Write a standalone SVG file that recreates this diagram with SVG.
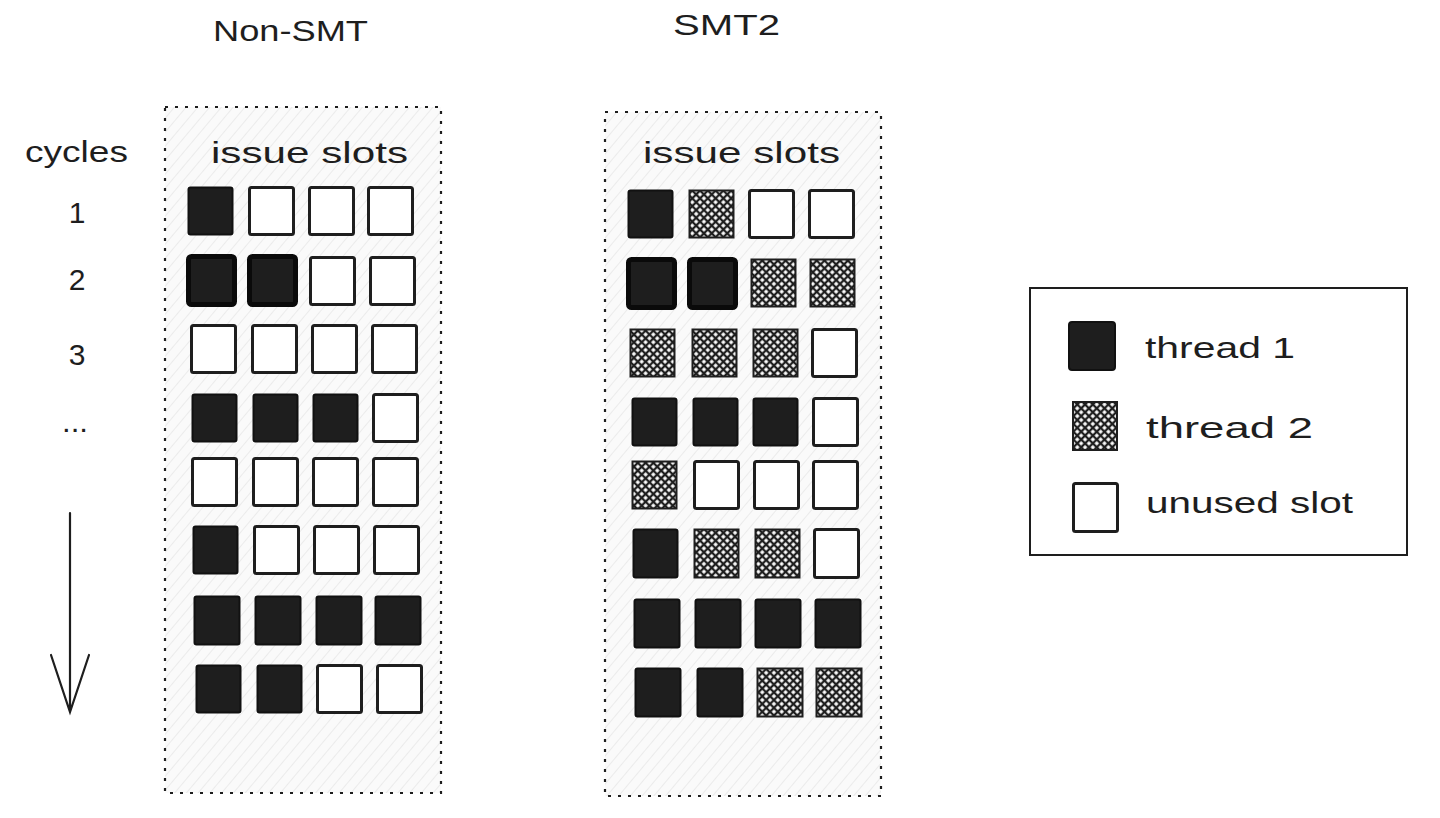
<svg xmlns="http://www.w3.org/2000/svg" width="1440" height="818" viewBox="0 0 1440 818">
<defs>
<pattern id="bg" width="9" height="9" patternUnits="userSpaceOnUse" patternTransform="rotate(-50)">
<rect width="9" height="9" fill="#fafafa"/>
<path d="M0 4.5H9" stroke="#ebebeb" stroke-width="1"/>
</pattern>
<pattern id="xh" width="5.5" height="5.5" patternUnits="userSpaceOnUse" patternTransform="rotate(45)">
<rect width="5.5" height="5.5" fill="#fff"/>
<path d="M0 2.75H5.5M2.75 0V5.5" stroke="#1e1e1e" stroke-width="2.3"/>
</pattern>
</defs>
<style>
text{font-family:"Liberation Sans","DejaVu Sans",sans-serif;fill:#1e1e1e;font-size:30px}
.num{font-size:30px;text-anchor:middle}
.frame{fill:url(#bg);stroke:#1e1e1e;stroke-width:2.2;stroke-dasharray:3 7}
.b{fill:#1e1e1e;stroke:#111;stroke-width:2}
.bt{fill:#1e1e1e;stroke:#0a0a0a;stroke-width:5}
.w{fill:#fff;stroke:#1e1e1e;stroke-width:3}
.h{fill:url(#xh);stroke:#1e1e1e;stroke-width:2}
.leg{fill:#fff;stroke:#1e1e1e;stroke-width:2}
.arr{fill:none;stroke:#1e1e1e;stroke-width:2.2;stroke-linecap:round}
</style>
<rect width="1440" height="818" fill="#fff"/>

<g id="titles">
<text x="213" y="41" textLength="155" lengthAdjust="spacingAndGlyphs">Non-SMT</text>
<text x="673" y="35" textLength="107" lengthAdjust="spacingAndGlyphs">SMT2</text>
</g>

<g id="cycles-axis">
<text x="25" y="162" textLength="103" lengthAdjust="spacingAndGlyphs">cycles</text>
<text class="num" x="77" y="223">1</text>
<text class="num" x="77" y="290">2</text>
<text class="num" x="77" y="365">3</text>
<text x="62" y="432" textLength="26" lengthAdjust="spacingAndGlyphs">...</text>
</g>

<g id="connectors">
<path class="arr" d="M70 513V712M51 655L70 712L89 655"/>
</g>

<g id="non-smt">
<rect class="frame" x="165" y="107" width="276" height="686"/>
<text x="211" y="163" textLength="197" lengthAdjust="spacingAndGlyphs">issue slots</text>
<g id="non-smt-row1">
<rect class="b" x="188.5" y="187.5" width="44" height="47" rx="2"/>
<rect class="w" x="249.5" y="187.5" width="44" height="47" rx="2"/>
<rect class="w" x="309.5" y="187.5" width="44" height="47" rx="2"/>
<rect class="w" x="368.5" y="187.5" width="44" height="47" rx="2"/>
</g>
<g id="non-smt-row2">
<rect class="bt" x="188.5" y="256.5" width="46" height="48" rx="3"/>
<rect class="bt" x="249.5" y="256.5" width="46" height="48" rx="3"/>
<rect class="w" x="310.5" y="257.5" width="44" height="47" rx="2"/>
<rect class="w" x="370.5" y="257.5" width="44" height="47" rx="2"/>
</g>
<g id="non-smt-row3">
<rect class="w" x="191.5" y="325.5" width="44" height="47" rx="2"/>
<rect class="w" x="252.5" y="325.5" width="44" height="47" rx="2"/>
<rect class="w" x="312.5" y="325.5" width="44" height="47" rx="2"/>
<rect class="w" x="372.5" y="325.5" width="44" height="47" rx="2"/>
</g>
<g id="non-smt-row4">
<rect class="b" x="192.5" y="394.5" width="44" height="47" rx="2"/>
<rect class="b" x="253.5" y="394.5" width="44" height="47" rx="2"/>
<rect class="b" x="313.5" y="394.5" width="44" height="47" rx="2"/>
<rect class="w" x="373.5" y="394.5" width="44" height="47" rx="2"/>
</g>
<g id="non-smt-row5">
<rect class="w" x="192.5" y="458.5" width="44" height="47" rx="2"/>
<rect class="w" x="253.5" y="458.5" width="44" height="47" rx="2"/>
<rect class="w" x="313.5" y="458.5" width="44" height="47" rx="2"/>
<rect class="w" x="373.5" y="458.5" width="44" height="47" rx="2"/>
</g>
<g id="non-smt-row6">
<rect class="b" x="193.5" y="526.5" width="44" height="47" rx="2"/>
<rect class="w" x="254.5" y="526.5" width="44" height="47" rx="2"/>
<rect class="w" x="314.5" y="526.5" width="44" height="47" rx="2"/>
<rect class="w" x="374.5" y="526.5" width="44" height="47" rx="2"/>
</g>
<g id="non-smt-row7">
<rect class="b" x="194.5" y="596.5" width="45" height="48" rx="2"/>
<rect class="b" x="255.5" y="596.5" width="45" height="48" rx="2"/>
<rect class="b" x="316.5" y="596.5" width="45" height="48" rx="2"/>
<rect class="b" x="375.5" y="596.5" width="45" height="48" rx="2"/>
</g>
<g id="non-smt-row8">
<rect class="b" x="196.5" y="665.5" width="44" height="47" rx="2"/>
<rect class="b" x="257.5" y="665.5" width="44" height="47" rx="2"/>
<rect class="w" x="317.5" y="665.5" width="44" height="47" rx="2"/>
<rect class="w" x="377.5" y="665.5" width="44" height="47" rx="2"/>
</g>
</g>

<g id="smt2">
<rect class="frame" x="605" y="112" width="276" height="684"/>
<text x="643" y="163" textLength="197" lengthAdjust="spacingAndGlyphs">issue slots</text>
<g id="smt2-row1">
<rect class="b" x="628.5" y="190.5" width="44" height="47" rx="2"/>
<rect class="h" x="689.5" y="190.5" width="44" height="47"/>
<rect class="w" x="749.5" y="190.5" width="44" height="47" rx="2"/>
<rect class="w" x="809.5" y="190.5" width="44" height="47" rx="2"/>
</g>
<g id="smt2-row2">
<rect class="bt" x="628.5" y="259.5" width="46" height="48" rx="3"/>
<rect class="bt" x="689.5" y="259.5" width="46" height="48" rx="3"/>
<rect class="h" x="751.5" y="259.5" width="44" height="47"/>
<rect class="h" x="810.5" y="259.5" width="44" height="47"/>
</g>
<g id="smt2-row3">
<rect class="h" x="630.5" y="329.5" width="44" height="47"/>
<rect class="h" x="692.5" y="329.5" width="44" height="47"/>
<rect class="h" x="753.5" y="329.5" width="44" height="47"/>
<rect class="w" x="812.5" y="329.5" width="44" height="47" rx="2"/>
</g>
<g id="smt2-row4">
<rect class="b" x="632.5" y="398.5" width="44" height="47" rx="2"/>
<rect class="b" x="693.5" y="398.5" width="44" height="47" rx="2"/>
<rect class="b" x="753.5" y="398.5" width="44" height="47" rx="2"/>
<rect class="w" x="813.5" y="398.5" width="44" height="47" rx="2"/>
</g>
<g id="smt2-row5">
<rect class="h" x="632.5" y="461.5" width="44" height="47"/>
<rect class="w" x="694.5" y="461.5" width="44" height="47" rx="2"/>
<rect class="w" x="754.5" y="461.5" width="44" height="47" rx="2"/>
<rect class="w" x="813.5" y="461.5" width="44" height="47" rx="2"/>
</g>
<g id="smt2-row6">
<rect class="b" x="633.5" y="529.5" width="44" height="48" rx="2"/>
<rect class="h" x="694.5" y="529.5" width="44" height="48"/>
<rect class="h" x="755.5" y="529.5" width="44" height="48"/>
<rect class="w" x="814.5" y="529.5" width="44" height="48" rx="2"/>
</g>
<g id="smt2-row7">
<rect class="b" x="634.5" y="599.5" width="45" height="48" rx="2"/>
<rect class="b" x="695.5" y="599.5" width="45" height="48" rx="2"/>
<rect class="b" x="755.5" y="599.5" width="45" height="48" rx="2"/>
<rect class="b" x="815.5" y="599.5" width="45" height="48" rx="2"/>
</g>
<g id="smt2-row8">
<rect class="b" x="635.5" y="668.5" width="45" height="48" rx="2"/>
<rect class="b" x="697.5" y="668.5" width="45" height="48" rx="2"/>
<rect class="h" x="757.5" y="668.5" width="45" height="48"/>
<rect class="h" x="816.5" y="668.5" width="45" height="48"/>
</g>
</g>

<g id="legend">
<rect class="leg" x="1030" y="288" width="377" height="267"/>
<g id="legend-thread1">
<rect class="b" x="1069" y="322" width="46" height="48" rx="3"/>
<text x="1145" y="358" textLength="150" lengthAdjust="spacingAndGlyphs">thread 1</text>
</g>
<g id="legend-thread2">
<rect class="h" x="1073" y="402" width="44" height="48"/>
<text x="1146" y="438" textLength="167" lengthAdjust="spacingAndGlyphs">thread 2</text>
</g>
<g id="legend-unused">
<rect class="w" x="1073.5" y="483.5" width="44" height="48" rx="2"/>
<text x="1146" y="513" textLength="207" lengthAdjust="spacingAndGlyphs">unused slot</text>
</g>
</g>
</svg>
